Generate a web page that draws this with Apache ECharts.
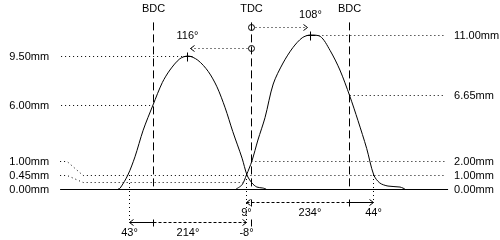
<!DOCTYPE html>
<html>
<head>
<meta charset="utf-8">
<script src="https://cdn.jsdelivr.net/npm/echarts@6/dist/echarts.min.js"></script>
<style>
  html, body { margin: 0; background: #fff; }
  #chart { width: 500px; height: 240px; }
</style>
</head>
<body>
<div id="chart"></div>
<script>
// crank angle in degrees (overlap TDC = 360), valve lift in mm
const exhaustAngle = [116, 120, 134, 147, 162, 180, 197, 211, 229, 244, 262, 281, 297, 312, 326, 343, 352, 361, 370, 381, 387];
const exhaustLift  = [0, 0.07, 1.0, 2.3, 4.2, 6.0, 7.6, 8.5, 9.3, 9.5, 9.2, 8.4, 7.3, 5.8, 4.1, 2.2, 1.0, 0.43, 0.14, 0.07, 0];
const intakeAngle  = [332, 343, 351, 361, 372, 385, 400, 418, 436, 453, 468, 486, 504, 522, 540, 555, 571, 584, 595, 610, 632, 641];
const intakeLift   = [0, 0.3, 1.0, 2.0, 3.5, 5.1, 7.5, 9.0, 10.1, 10.8, 11.0, 10.9, 9.9, 8.5, 6.65, 4.9, 2.9, 1.0, 0.43, 0.21, 0.14, 0];

const angleRange = [10, 720];
const markerAngles = [180, 360, 540];
const markerNames = ['BDC', 'TDC', 'BDC'];

const leftLifts = [9.5, 6.0, 1.0, 0.45, 0];
const leftEnds = [244, 180, 352, 345, null];
const rightLifts = [11.0, 6.65, 2.0, 1.0, 0];
const rightStarts = [468, 540, 360, 351, null];

const peakAngles = [244, 468];
const peakLifts = [9.5, 11.0];
const peakLabels = ['116°', '108°'];

const spanLift = 1.0;
const spanFrom = [137, 351];
const spanTo = [352, 584];
const spanSplit = [180, 540];
const spanLabels = [['43°', '214°', '-8°'], ['9°', '234°', '44°']];

// layout
const FONT = '11px "Liberation Sans", Arial, sans-serif';
const INK = '#000';
const DOT = [1, 3];
const DASH = [8, 4];
const SHORT_DASH = [3, 2];
const LABEL_GAP = 1.0;      // mm between stacked level labels
const MARKER_TOP = 11.9;    // mm
const SPAN_ROWS = [33, 13]; // px below the baseline
const tdc = markerAngles[markerNames.indexOf('TDC')];

const crisp = v => Math.round(v - 0.5) + 0.5;

function seg(x1, y1, x2, y2, dash) {
  return { type: 'line', shape: { x1, y1, x2, y2 }, style: { stroke: INK, lineWidth: 1, lineDash: dash, fill: null } };
}
function poly(points, dash) {
  return { type: 'polyline', shape: { points }, style: { stroke: INK, lineWidth: 1, lineDash: dash, fill: null } };
}
function label(x, y, text, align) {
  return { type: 'text', x, y, style: { text, fill: INK, font: FONT, align: align || 'center', verticalAlign: 'middle' } };
}
function head(x, y, dir) {
  return poly([[x - dir * 4, y - 3], [x, y], [x - dir * 4, y + 3]]);
}

function placeLabels(lifts) {
  const placed = lifts.slice();
  for (let i = placed.length - 2; i >= 0; i--) {
    placed[i] = Math.max(placed[i], placed[i + 1] + LABEL_GAP);
  }
  return placed;
}
const leftPlaced = placeLabels(leftLifts);
const rightPlaced = placeLabels(rightLifts);

function renderMarker(params, api) {
  const i = params.dataIndex;
  const top = api.coord([markerAngles[i], MARKER_TOP]);
  const bot = api.coord([markerAngles[i], 0]);
  const x = crisp(top[0]);
  return { type: 'group', children: [
    seg(x, top[1], x, bot[1], DASH),
    label(x, top[1] - 13, markerNames[i])
  ] };
}

function renderLeft(params, api) {
  const i = params.dataIndex;
  const lift = leftLifts[i];
  const s = api.coord([angleRange[0], leftPlaced[i]]);
  const r = api.coord([angleRange[0], lift]);
  const y0 = crisp(s[1]);
  const y1 = crisp(r[1]);
  const children = [label(s[0] - 11, y0, lift.toFixed(2) + 'mm', 'right')];
  if (leftEnds[i] == null) {
    const e = api.coord([angleRange[1], lift]);
    children.push(seg(s[0], y1, e[0], y1));
  } else {
    const e = api.coord([leftEnds[i], lift]);
    const pts = y0 === y1 ? [[s[0] + 1, y0]] : [[s[0], y0], [s[0] + 7, y0], [s[0] + 23, y1]];
    pts.push([e[0], y1]);
    children.push(poly(pts, DOT));
  }
  return { type: 'group', children };
}

function renderRight(params, api) {
  const i = params.dataIndex;
  const lift = rightLifts[i];
  const e = api.coord([angleRange[1], rightPlaced[i]]);
  const y = crisp(e[1]);
  const children = [label(e[0] + 6, y, lift.toFixed(2) + 'mm', 'left')];
  if (rightStarts[i] != null) {
    const s = api.coord([rightStarts[i], lift]);
    children.push(seg(s[0], y, e[0] - 3, y, DOT));
  }
  return { type: 'group', children };
}

function renderPeak(params, api) {
  const i = params.dataIndex;
  const p = api.coord([peakAngles[i], peakLifts[i]]);
  const t = api.coord([tdc, peakLifts[i]]);
  const dir = Math.sign(p[0] - t[0]);
  const px = crisp(p[0]);
  const py = crisp(p[1]);
  const row = crisp(p[1] - 8);
  const tx = crisp(t[0]);
  return { type: 'group', children: [
    seg(px - 4, py, px + 5, py),
    seg(px, py - 4, px, py + 5),
    { type: 'circle', shape: { cx: tx, cy: row, r: 3 }, style: { stroke: INK, fill: null, lineWidth: 1 } },
    seg(tx + dir * 4, row, px - dir * 3, row, DOT),
    head(px - dir * 3, row, dir),
    label(px, row - 13, peakLabels[i])
  ] };
}

function renderSpan(params, api) {
  const i = params.dataIndex;
  const a0 = spanFrom[i];
  const a1 = spanTo[i];
  const as = spanSplit[i];
  const f = api.coord([a0, spanLift]);
  const t = api.coord([a1, spanLift]);
  const row = crisp(api.coord([a0, 0])[1] + SPAN_ROWS[i]);
  const fx = crisp(f[0]);
  const tx = crisp(t[0]);
  const sx = crisp(api.coord([as, 0])[0]);
  const dx = crisp(api.coord([tdc, 0])[0]);
  const firstDashed = Math.abs((a0 + as) / 2 - tdc) < Math.abs((as + a1) / 2 - tdc);
  const texts = spanLabels[i];
  return { type: 'group', children: [
    seg(fx, f[1], fx, row, DOT),
    seg(tx, t[1], tx, row, DOT),
    seg(fx, row, sx, row, firstDashed ? SHORT_DASH : null),
    seg(sx, row, tx, row, firstDashed ? null : SHORT_DASH),
    head(fx, row, -1),
    head(tx, row, 1),
    seg(sx, row - 3, sx, row + 4),
    seg(dx, row - 3, dx, row + 4),
    label(fx, row + 10, texts[0]),
    label((fx + tx) / 2, row + 10, texts[1]),
    label(tx, row + 10, texts[2])
  ] };
}

const curveStyle = { color: INK, width: 1 };

const chart = echarts.init(document.getElementById('chart'));
chart.setOption({
  animation: false,
  grid: { left: 0, right: 0, top: 0, bottom: 0 },
  xAxis: { type: 'value', min: -100, max: 815, show: false },
  yAxis: { type: 'value', min: -51 / 14, max: 189 / 14, show: false },
  series: [
    { type: 'custom', silent: true, renderItem: renderMarker, data: markerAngles.map(a => [a, 0]) },
    { type: 'custom', silent: true, renderItem: renderLeft, data: leftLifts.map(l => [angleRange[0], l]) },
    { type: 'custom', silent: true, renderItem: renderRight, data: rightLifts.map(l => [angleRange[1], l]) },
    { type: 'custom', silent: true, renderItem: renderPeak, data: peakAngles.map((a, i) => [a, peakLifts[i]]) },
    { type: 'custom', silent: true, renderItem: renderSpan, data: spanFrom.map(a => [a, spanLift]) },
    {
      name: 'Exhaust', type: 'line', silent: true, showSymbol: false, smooth: 0.3,
      lineStyle: curveStyle, itemStyle: { color: INK },
      data: exhaustAngle.map((a, i) => [a, exhaustLift[i]])
    },
    {
      name: 'Intake', type: 'line', silent: true, showSymbol: false, smooth: 0.3,
      lineStyle: curveStyle, itemStyle: { color: INK },
      data: intakeAngle.map((a, i) => [a, intakeLift[i]])
    }
  ]
});
</script>
</body>
</html>
